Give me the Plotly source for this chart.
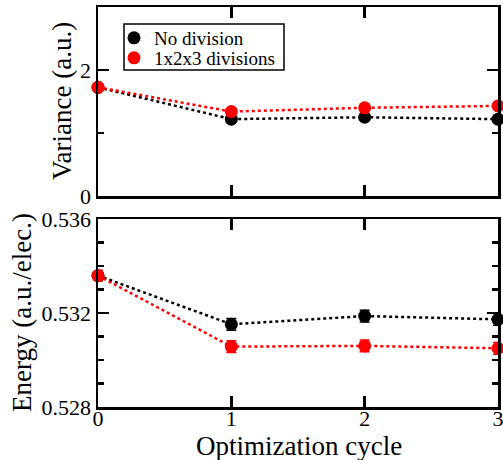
import plotly.graph_objects as go

cycles = [0, 1, 2, 3]
var_nodiv = [1.725, 1.22, 1.25, 1.22]
var_div = [1.725, 1.34, 1.40, 1.43]
en_nodiv = [0.53359, 0.53152, 0.53187, 0.53173]
en_div = [0.53359, 0.53057, 0.53060, 0.53050]
en_err_nodiv = [0.00022, 0.00025, 0.00025, 0.00025]
en_err_div = [0.00022, 0.00025, 0.00025, 0.00025]
names = ["No division", "1x2x3 divisions"]
colors = ["black", "red"]
legends = ["legend", "legend2"]
x_title = "Optimization cycle"
y_titles = ["Variance (a.u.)", "Energy (a.u./elec.)"]

FONT = "Liberation Serif, Times New Roman, serif"

fig = go.Figure()

for vals, en, err, nm, c, lg in [(var_nodiv, en_nodiv, en_err_nodiv, names[0], colors[0], legends[0]),
                                 (var_div, en_div, en_err_div, names[1], colors[1], legends[1])]:
    fig.add_trace(go.Scatter(x=cycles, y=vals, xaxis="x", yaxis="y", mode="lines",
                             line=dict(color=c, width=2.5, dash="dot"),
                             showlegend=False, cliponaxis=False))
    fig.add_trace(go.Scatter(x=cycles, y=vals, xaxis="x", yaxis="y", mode="markers",
                             marker=dict(color=c, size=13), name=nm, legend=lg, cliponaxis=False))
    fig.add_trace(go.Scatter(x=cycles, y=en, xaxis="x2", yaxis="y2", mode="lines",
                             line=dict(color=c, width=2.5, dash="dot"),
                             showlegend=False, cliponaxis=False))
    fig.add_trace(go.Scatter(x=cycles, y=en, xaxis="x2", yaxis="y2", mode="markers",
                             marker=dict(color=c, size=13),
                             error_y=dict(type="data", array=err, color=c, thickness=1.5, width=5),
                             showlegend=False, cliponaxis=False))

axis_common = dict(showline=True, linewidth=2.5, linecolor="black", mirror="allticks",
                   ticks="inside", ticklen=11, tickwidth=2.5, tickcolor="black",
                   showgrid=False, zeroline=False, automargin=False, ticklabeloverflow="allow",
                   tickfont=dict(family=FONT, size=22, color="black"))

minor_common = dict(ticklen=6, tickwidth=2.5, tickcolor="black", ticks="inside")

fig.update_layout(
    xaxis=dict(domain=[0, 1], anchor="y", range=[0, 3], dtick=1, showticklabels=False, **axis_common),
    yaxis=dict(domain=[0.5275, 1], anchor="x", range=[0, 3], tickvals=[0, 2], ticktext=["0", "2"],
               minor=dict(tickvals=[1, 3], **minor_common), **axis_common),
    xaxis2=dict(domain=[0, 1], anchor="y2", range=[0, 3], dtick=1, ticklabelstandoff=-10, **axis_common),
    yaxis2=dict(domain=[0, 0.47], anchor="x2", range=[0.528, 0.536], tickvals=[0.528, 0.532, 0.536],
                tickformat=".3f", minor=dict(dtick=0.001, **minor_common), **axis_common),
)

ann_font = dict(family=FONT, size=27, color="black")
fig.add_annotation(text=y_titles[0], xref="paper", yref="paper", x=(62 - 98) / 400, y=(407 - 101) / 400,
                   textangle=-90, showarrow=False, font=ann_font, xanchor="center", yanchor="middle")
fig.add_annotation(text=y_titles[1], xref="paper", yref="paper", x=(22 - 98) / 400, y=(407 - 313) / 400,
                   textangle=-90, showarrow=False, font=ann_font, xanchor="center", yanchor="middle")
fig.add_annotation(text=x_title, xref="paper", yref="paper", x=(298.5 - 98) / 400, y=(407 - 446) / 400,
                   showarrow=False, font=ann_font, xanchor="center", yanchor="middle")

# legend frame
fig.add_shape(type="rect", xref="paper", yref="paper", x0=(124 - 98) / 400, x1=(284 - 98) / 400,
              y0=(407 - 70) / 400, y1=(407 - 24) / 400, line=dict(color="black", width=1.5),
              fillcolor="white", layer="above")

leg_common = dict(xanchor="left", yanchor="middle", bgcolor="rgba(0,0,0,0)", borderwidth=0,
                  font=dict(family=FONT, size=19, color="black"), itemwidth=30, itemclick=False)

fig.update_layout(
    width=503, height=460,
    margin=dict(l=98, r=5, t=7, b=53),
    plot_bgcolor="white", paper_bgcolor="white",
    showlegend=True,
    legend=dict(x=(114 - 98) / 400, y=(407 - 38) / 400, **leg_common),
    legend2=dict(x=(114 - 98) / 400, y=(407 - 58) / 400, **leg_common),
    font=dict(family=FONT, color="black"),
)

fig.write_html("out.html", config=dict(displayModeBar=False, staticPlot=True),
               post_script="document.body.style.margin='0';document.body.style.overflow='hidden';")
